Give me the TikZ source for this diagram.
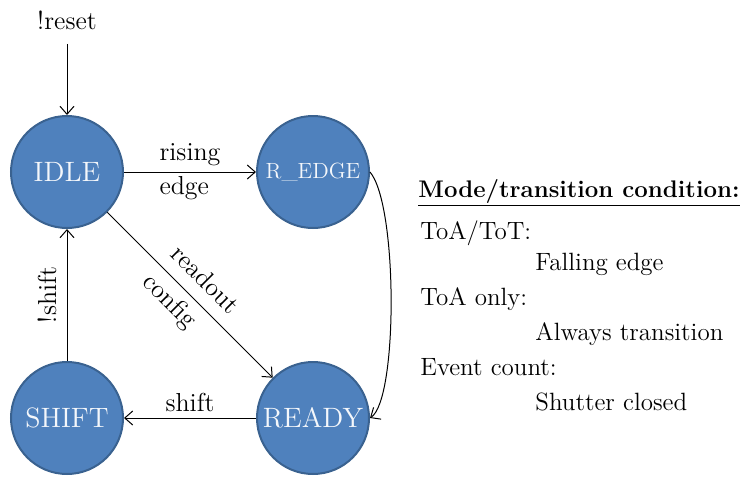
\documentclass[tikz,border=0pt]{standalone}
\usepackage{fontspec}
\usetikzlibrary{arrows.meta}
\definecolor{fsmfill}{HTML}{4F81BD}
\definecolor{fsmline}{HTML}{3A6290}
\definecolor{fsmtext}{HTML}{F4F7FB}
\tikzset{
  fsmstate/.style={circle,fill=fsmfill,draw=fsmline,line width=1pt,minimum size=56pt,inner sep=0pt,text=fsmtext,font=\fontsize{14}{17}\selectfont},
  trans/.style={-{Straight Barb[length=4pt,width=7pt]},line width=0.5pt},
  lbl/.style={font=\fontsize{13}{17}\selectfont,align=left,inner sep=1pt}
}
\begin{document}
\begin{tikzpicture}[x=0.5pt,y=-0.5pt]
  \useasboundingbox (0,0) rectangle (740,478);
  % states
  \node[fsmstate] (idle) at (67,172) {IDLE};
  \node[fsmstate,font=\fontsize{11}{13}\selectfont] (redge) at (313,172) {R\_EDGE};
  \node[fsmstate] (shift) at (67,418) {SHIFT};
  \node[fsmstate] (ready) at (313,418) {READY};
  \node[lbl] (reset) at (67,20) {!reset};
  % transitions
  \draw[trans,shorten <=6pt] (reset) -- (idle);
  \draw[trans] (idle) -- node[lbl] {rising\\edge} (redge);
  \draw[trans] (idle) -- node[lbl,sloped,font=\fontsize{13}{20}\selectfont] {readout\\config} (ready);
  \draw[trans] (redge.east) .. controls (398,205) and (398,400) .. (ready.east);
  \draw[trans] (ready) -- node[lbl,above=2pt] {shift} (shift);
  \draw[trans] (shift) -- node[lbl,above=4pt,sloped] {!shift} (idle);
  % legend
  \node[font=\fontsize{12}{15}\selectfont\bfseries,anchor=base west,inner sep=0pt] (head) at (418,197) {\underline{Mode/transition condition:}};
  \foreach \x/\y/\t [count=\i] in {420/239/{ToA/ToT:},535/270/{Falling edge},420/305/{ToA only:},535/340/{Always transition},420/375/{Event count:},535/410/{Shutter closed}}
    \node[lbl,font=\fontsize{12.5}{15}\selectfont,anchor=base west,inner sep=0pt] (cond\i) at (\x,\y) {\t};
\end{tikzpicture}
\end{document}
